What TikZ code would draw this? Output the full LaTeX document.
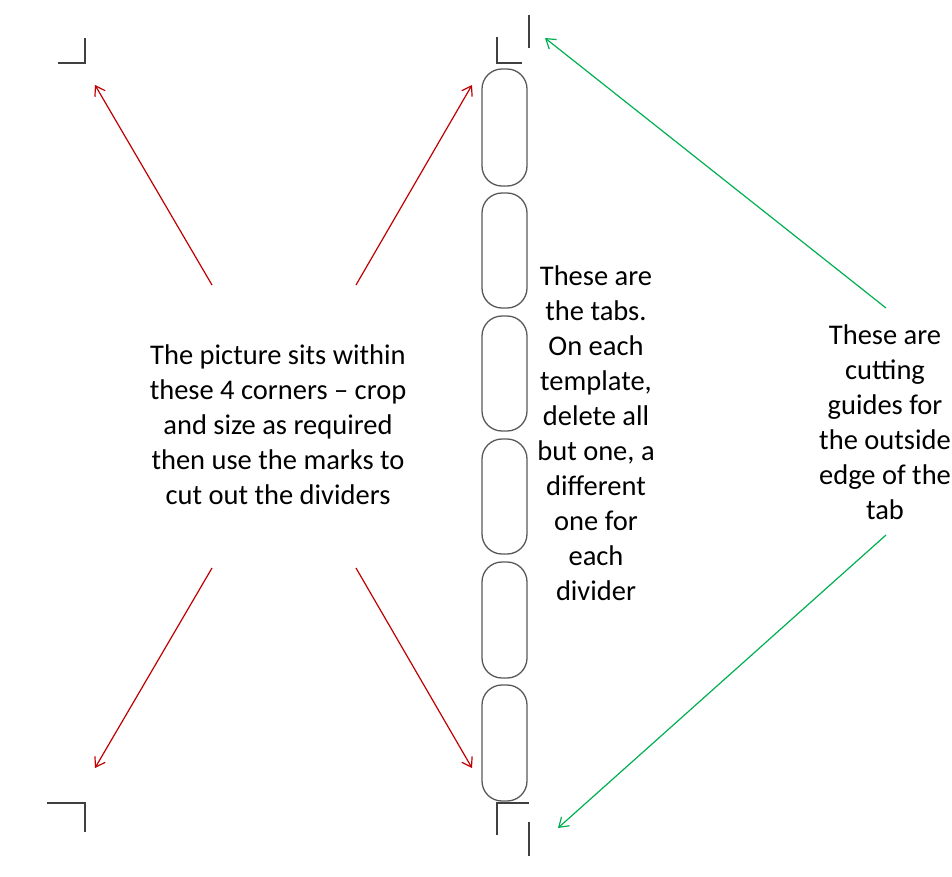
\documentclass[tikz,border=0pt]{standalone}
\usepackage{fontspec}
\setmainfont{Carlito}
\usetikzlibrary{arrows.meta}
\begin{document}
\begin{tikzpicture}[x=1pt,y=-1pt,
  cropmark/.style={draw=black!75,line width=1.6pt},
  tabbox/.style={draw=black!65,line width=1.3pt,rounded corners=20pt},
  redarr/.style={draw={rgb,255:red,192;green,0;blue,0},line width=1.2pt,-{Straight Barb[length=9pt,width=12pt]}},
  grnarr/.style={draw={rgb,255:red,0;green,176;blue,80},line width=1.2pt,-{Straight Barb[length=9pt,width=12pt]}},
  txt/.style={font=\fontsize{28.5}{35}\selectfont,align=center,text=black}]
\path[use as bounding box] (0,0) rectangle (952,876);
\begin{scope}
\clip (0,0) rectangle (952,876);
% corner marks
\draw[cropmark] (85,38) -- (85,63) -- (58,63);
\draw[cropmark] (47,803) -- (85,803) -- (85,832);
\draw[cropmark] (497,37) -- (497,63) -- (522,63);
\draw[cropmark] (529,15) -- (529,48);
\draw[cropmark] (497,835) -- (497,803) -- (529,803);
\draw[cropmark] (529,822) -- (529,856);
\coordinate (tl) at (95,85); \coordinate (tr) at (472,85);
\coordinate (bl) at (95,768); \coordinate (br) at (472,768);
\coordinate (gt) at (545,38); \coordinate (gb) at (558,828);
% tabs
\foreach \a/\b [count=\i] in {69/186,193/308,316/431,439/554,562/678,685/801}
  \draw[tabbox] (482,\a) rectangle (527,\b);
% texts
\node[txt] (left) at (278,425) {The picture sits within\\these 4 corners -- crop\\and size as required\\then use the marks to\\cut out the dividers};
\node[txt] (mid) at (596,433) {These are\\the tabs.\\On each\\template,\\delete all\\but one, a\\different\\one for\\each\\divider};
\node[txt] (right) at (885,422) {These are\\cutting\\guides for\\the outside\\edge of the\\tab};
% arrows
\coordinate (l1) at (212,285); \coordinate (l2) at (356,285);
\coordinate (l3) at (212,568); \coordinate (l4) at (356,568);
\coordinate (r1) at (886,308); \coordinate (r2) at (886,535);
\draw[redarr] (l1) -- (tl);
\draw[redarr] (l2) -- (tr);
\draw[redarr] (l3) -- (bl);
\draw[redarr] (l4) -- (br);
\draw[grnarr] (r1) -- (gt);
\draw[grnarr] (r2) -- (gb);
\end{scope}
\end{tikzpicture}
\end{document}
